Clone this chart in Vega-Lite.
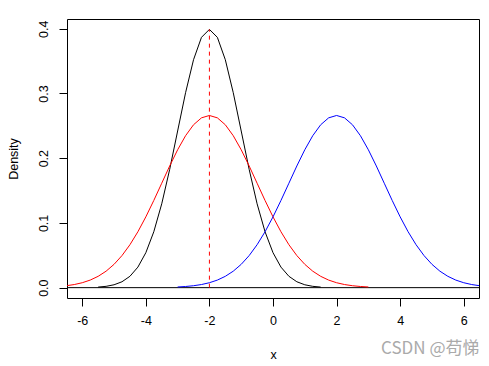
{
  "$schema": "https://vega.github.io/schema/vega-lite/v6.json",
  "width": 412,
  "height": 279,
  "autosize": {"type": "none"},
  "padding": {"left": 67, "top": 19, "right": 10, "bottom": 68},
  "background": "white",
  "title": {
    "text": "CSDN @苟悌",
    "orient": "bottom",
    "anchor": "end",
    "font": "Noto Sans CJK SC",
    "fontSize": 17,
    "fontWeight": "normal",
    "color": "#aaaaaa",
    "offset": -20
  },
  "config": {
    "view": {"stroke": "black", "strokeWidth": 1},
    "axis": {
      "grid": false,
      "domain": false,
      "tickColor": "black",
      "tickSize": 8,
      "labelColor": "black",
      "labelFont": "Liberation Sans",
      "labelFontSize": 12.5,
      "titleFont": "Liberation Sans",
      "titleFontSize": 12.5,
      "titleFontWeight": "normal",
      "titleColor": "black"
    }
  },
  "datasets": {
    "curves": [
      {"g": "N(-2,1)", "x": -5.5, "y": 0.000873},
      {"g": "N(-2,1)", "x": -5.25, "y": 0.002029},
      {"g": "N(-2,1)", "x": -5, "y": 0.004432},
      {"g": "N(-2,1)", "x": -4.75, "y": 0.009094},
      {"g": "N(-2,1)", "x": -4.5, "y": 0.017528},
      {"g": "N(-2,1)", "x": -4.25, "y": 0.03174},
      {"g": "N(-2,1)", "x": -4, "y": 0.053991},
      {"g": "N(-2,1)", "x": -3.75, "y": 0.086277},
      {"g": "N(-2,1)", "x": -3.5, "y": 0.129518},
      {"g": "N(-2,1)", "x": -3.25, "y": 0.182649},
      {"g": "N(-2,1)", "x": -3, "y": 0.241971},
      {"g": "N(-2,1)", "x": -2.75, "y": 0.301137},
      {"g": "N(-2,1)", "x": -2.5, "y": 0.352065},
      {"g": "N(-2,1)", "x": -2.25, "y": 0.386668},
      {"g": "N(-2,1)", "x": -2, "y": 0.398942},
      {"g": "N(-2,1)", "x": -1.75, "y": 0.386668},
      {"g": "N(-2,1)", "x": -1.5, "y": 0.352065},
      {"g": "N(-2,1)", "x": -1.25, "y": 0.301137},
      {"g": "N(-2,1)", "x": -1, "y": 0.241971},
      {"g": "N(-2,1)", "x": -0.75, "y": 0.182649},
      {"g": "N(-2,1)", "x": -0.5, "y": 0.129518},
      {"g": "N(-2,1)", "x": -0.25, "y": 0.086277},
      {"g": "N(-2,1)", "x": 0, "y": 0.053991},
      {"g": "N(-2,1)", "x": 0.25, "y": 0.03174},
      {"g": "N(-2,1)", "x": 0.5, "y": 0.017528},
      {"g": "N(-2,1)", "x": 0.75, "y": 0.009094},
      {"g": "N(-2,1)", "x": 1, "y": 0.004432},
      {"g": "N(-2,1)", "x": 1.25, "y": 0.002029},
      {"g": "N(-2,1)", "x": 1.5, "y": 0.000873},

      {"g": "N(-2,1.5)", "x": -7, "y": 0.001028},
      {"g": "N(-2,1.5)", "x": -6.75, "y": 0.001767},
      {"g": "N(-2,1.5)", "x": -6.5, "y": 0.002955},
      {"g": "N(-2,1.5)", "x": -6.25, "y": 0.004804},
      {"g": "N(-2,1.5)", "x": -6, "y": 0.007597},
      {"g": "N(-2,1.5)", "x": -5.75, "y": 0.011685},
      {"g": "N(-2,1.5)", "x": -5.5, "y": 0.017481},
      {"g": "N(-2,1.5)", "x": -5.25, "y": 0.025435},
      {"g": "N(-2,1.5)", "x": -5, "y": 0.035994},
      {"g": "N(-2,1.5)", "x": -4.75, "y": 0.049541},
      {"g": "N(-2,1.5)", "x": -4.5, "y": 0.066318},
      {"g": "N(-2,1.5)", "x": -4.25, "y": 0.086345},
      {"g": "N(-2,1.5)", "x": -4, "y": 0.109341},
      {"g": "N(-2,1.5)", "x": -3.75, "y": 0.134666},
      {"g": "N(-2,1.5)", "x": -3.5, "y": 0.161314},
      {"g": "N(-2,1.5)", "x": -3.25, "y": 0.187942},
      {"g": "N(-2,1.5)", "x": -3, "y": 0.212965},
      {"g": "N(-2,1.5)", "x": -2.75, "y": 0.23471},
      {"g": "N(-2,1.5)", "x": -2.5, "y": 0.251589},
      {"g": "N(-2,1.5)", "x": -2.25, "y": 0.262293},
      {"g": "N(-2,1.5)", "x": -2, "y": 0.265961},
      {"g": "N(-2,1.5)", "x": -1.75, "y": 0.262293},
      {"g": "N(-2,1.5)", "x": -1.5, "y": 0.251589},
      {"g": "N(-2,1.5)", "x": -1.25, "y": 0.23471},
      {"g": "N(-2,1.5)", "x": -1, "y": 0.212965},
      {"g": "N(-2,1.5)", "x": -0.75, "y": 0.187942},
      {"g": "N(-2,1.5)", "x": -0.5, "y": 0.161314},
      {"g": "N(-2,1.5)", "x": -0.25, "y": 0.134666},
      {"g": "N(-2,1.5)", "x": 0, "y": 0.109341},
      {"g": "N(-2,1.5)", "x": 0.25, "y": 0.086345},
      {"g": "N(-2,1.5)", "x": 0.5, "y": 0.066318},
      {"g": "N(-2,1.5)", "x": 0.75, "y": 0.049541},
      {"g": "N(-2,1.5)", "x": 1, "y": 0.035994},
      {"g": "N(-2,1.5)", "x": 1.25, "y": 0.025435},
      {"g": "N(-2,1.5)", "x": 1.5, "y": 0.017481},
      {"g": "N(-2,1.5)", "x": 1.75, "y": 0.011685},
      {"g": "N(-2,1.5)", "x": 2, "y": 0.007597},
      {"g": "N(-2,1.5)", "x": 2.25, "y": 0.004804},
      {"g": "N(-2,1.5)", "x": 2.5, "y": 0.002955},
      {"g": "N(-2,1.5)", "x": 2.75, "y": 0.001767},
      {"g": "N(-2,1.5)", "x": 3, "y": 0.001028},

      {"g": "N(2,1.5)", "x": -3, "y": 0.001028},
      {"g": "N(2,1.5)", "x": -2.75, "y": 0.001767},
      {"g": "N(2,1.5)", "x": -2.5, "y": 0.002955},
      {"g": "N(2,1.5)", "x": -2.25, "y": 0.004804},
      {"g": "N(2,1.5)", "x": -2, "y": 0.007597},
      {"g": "N(2,1.5)", "x": -1.75, "y": 0.011685},
      {"g": "N(2,1.5)", "x": -1.5, "y": 0.017481},
      {"g": "N(2,1.5)", "x": -1.25, "y": 0.025435},
      {"g": "N(2,1.5)", "x": -1, "y": 0.035994},
      {"g": "N(2,1.5)", "x": -0.75, "y": 0.049541},
      {"g": "N(2,1.5)", "x": -0.5, "y": 0.066318},
      {"g": "N(2,1.5)", "x": -0.25, "y": 0.086345},
      {"g": "N(2,1.5)", "x": 0, "y": 0.109341},
      {"g": "N(2,1.5)", "x": 0.25, "y": 0.134666},
      {"g": "N(2,1.5)", "x": 0.5, "y": 0.161314},
      {"g": "N(2,1.5)", "x": 0.75, "y": 0.187942},
      {"g": "N(2,1.5)", "x": 1, "y": 0.212965},
      {"g": "N(2,1.5)", "x": 1.25, "y": 0.23471},
      {"g": "N(2,1.5)", "x": 1.5, "y": 0.251589},
      {"g": "N(2,1.5)", "x": 1.75, "y": 0.262293},
      {"g": "N(2,1.5)", "x": 2, "y": 0.265961},
      {"g": "N(2,1.5)", "x": 2.25, "y": 0.262293},
      {"g": "N(2,1.5)", "x": 2.5, "y": 0.251589},
      {"g": "N(2,1.5)", "x": 2.75, "y": 0.23471},
      {"g": "N(2,1.5)", "x": 3, "y": 0.212965},
      {"g": "N(2,1.5)", "x": 3.25, "y": 0.187942},
      {"g": "N(2,1.5)", "x": 3.5, "y": 0.161314},
      {"g": "N(2,1.5)", "x": 3.75, "y": 0.134666},
      {"g": "N(2,1.5)", "x": 4, "y": 0.109341},
      {"g": "N(2,1.5)", "x": 4.25, "y": 0.086345},
      {"g": "N(2,1.5)", "x": 4.5, "y": 0.066318},
      {"g": "N(2,1.5)", "x": 4.75, "y": 0.049541},
      {"g": "N(2,1.5)", "x": 5, "y": 0.035994},
      {"g": "N(2,1.5)", "x": 5.25, "y": 0.025435},
      {"g": "N(2,1.5)", "x": 5.5, "y": 0.017481},
      {"g": "N(2,1.5)", "x": 5.75, "y": 0.011685},
      {"g": "N(2,1.5)", "x": 6, "y": 0.007597},
      {"g": "N(2,1.5)", "x": 6.25, "y": 0.004804},
      {"g": "N(2,1.5)", "x": 6.5, "y": 0.002955},
      {"g": "N(2,1.5)", "x": 6.75, "y": 0.001767},
      {"g": "N(2,1.5)", "x": 7, "y": 0.001028}
    ],
    "vline": [{"x": -2, "y": 0, "y2": 0.398942}],
    "hline": [{"y": 0}]
  },
  "layer": [
    {
      "data": {"name": "hline"},
      "mark": {"type": "rule", "color": "black", "strokeWidth": 1},
      "encoding": {
        "y": {"field": "y", "type": "quantitative"}
      }
    },
    {
      "data": {"name": "curves"},
      "mark": {"type": "line", "strokeWidth": 1, "clip": true},
      "encoding": {
        "x": {
          "field": "x", "type": "quantitative",
          "scale": {"domain": [-6.48, 6.48], "nice": false, "zero": false},
          "axis": {"title": "x", "values": [-6, -4, -2, 0, 2, 4, 6], "labelExpr": "datum.value < 0 ? '-' + abs(datum.value) : '' + datum.value", "labelPadding": 8, "titlePadding": 22, "labelFlush": false}
        },
        "y": {
          "field": "y", "type": "quantitative",
          "scale": {"domain": [-0.016, 0.415], "nice": false, "zero": false},
          "axis": {"title": "Density", "values": [0, 0.1, 0.2, 0.3, 0.4], "format": ".1f", "labelAngle": -90, "labelAlign": "center", "labelBaseline": "bottom", "labelPadding": 9, "titlePadding": 17, "labelFlush": false}
        },
        "color": {
          "field": "g", "type": "nominal",
          "scale": {"domain": ["N(-2,1)", "N(-2,1.5)", "N(2,1.5)"], "range": ["#000000", "#ff0000", "#0000ff"]},
          "legend": null
        },
        "order": {"field": "x", "type": "quantitative"}
      }
    },
    {
      "data": {"name": "vline"},
      "mark": {"type": "rule", "color": "#ff0000", "strokeWidth": 1, "strokeDash": [4, 4]},
      "encoding": {
        "x": {"field": "x", "type": "quantitative"},
        "y": {"field": "y", "type": "quantitative"},
        "y2": {"field": "y2"}
      }
    }
  ]
}
